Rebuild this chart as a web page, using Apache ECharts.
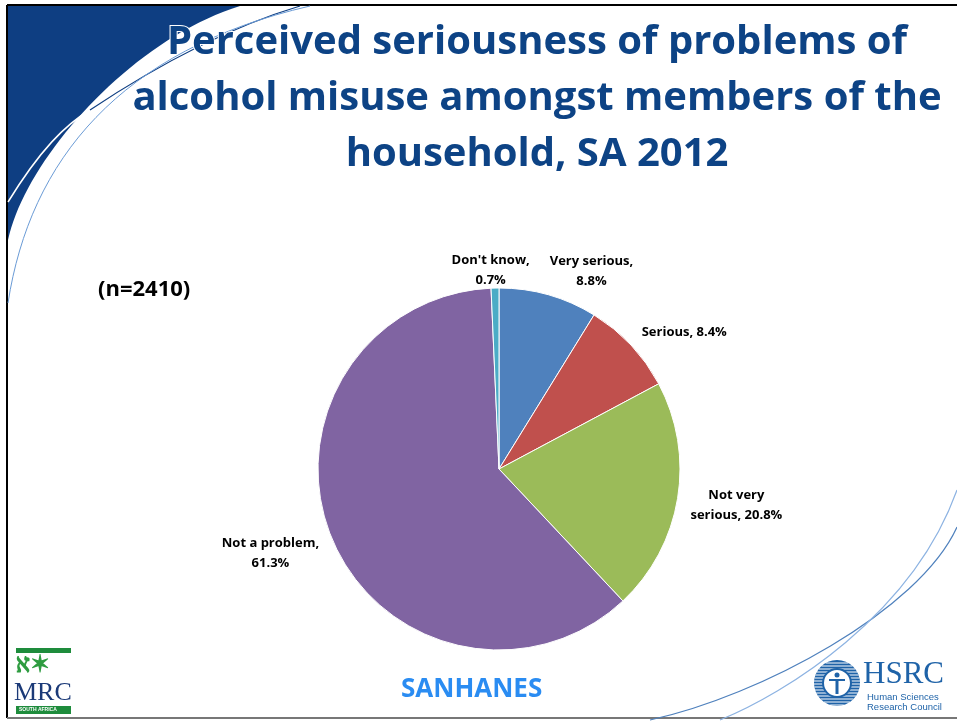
<!DOCTYPE html>
<html>
<head>
<meta charset="utf-8">
<script src="https://cdn.jsdelivr.net/npm/echarts@6/dist/echarts.min.js"></script>
<style>
html,body{margin:0;padding:0;background:#fff;}
#c{width:957px;height:722px;}
</style>
</head>
<body>
<div id="c"></div>
<script>
const categories = ["Very serious", "Serious", "Not very serious", "Not a problem", "Don't know"];
const values = [8.8, 8.4, 20.8, 61.3, 0.7];
const labelTexts = ["Very serious,\n8.8%", "Serious, 8.4%", "Not very\nserious, 20.8%", "Not a problem,\n61.3%", "Don't know,\n0.7%"];
const colors = ["#4F81BD", "#C0504D", "#9BBB59", "#8064A2", "#4BACC6"];
const titleLines = ["Perceived seriousness of problems of", "alcohol misuse amongst members of the", "household, SA 2012"];
// label nudges relative to the library's outside label position
const labelDX = [-7, -3, -4, 3, 40];
const labelDY = [-12, -5, 5, 9, -6];

const chart = echarts.init(document.getElementById('c'), null, {renderer: 'canvas'});
const FONT = '"Open Sans", sans-serif';

function bz(x1,y1,c1x,c1y,c2x,c2y,x2,y2,style,z){
  return {type:'bezierCurve', shape:{x1:x1,y1:y1,cpx1:c1x,cpy1:c1y,cpx2:c2x,cpy2:c2y,x2:x2,y2:y2}, style:style, z:z};
}
// decorative corner swoosh outline (sampled cubic)
function cubicPts(p0,c1,c2,p3,n){
  const pts=[];
  for(let i=0;i<=n;i++){
    const t=i/n, u=1-t;
    pts.push([u*u*u*p0[0]+3*u*u*t*c1[0]+3*u*t*t*c2[0]+t*t*t*p3[0],
              u*u*u*p0[1]+3*u*u*t*c1[1]+3*u*t*t*c2[1]+t*t*t*p3[1]]);
  }
  return pts;
}
const swoosh = [[8,6]].concat(cubicPts([240,6],[130,40],[25,160],[8,240],40));

// HSRC striped circle
const hsrc = [];
const hcx = 837, hcy = 683, hr = 23;
hsrc.push({type:'circle', shape:{cx:hcx,cy:hcy,r:hr}, style:{fill:'#1F63A8'}, z:10});
for (let dy = -hr + 3; dy < hr; dy += 3) {
  const hw = Math.sqrt(hr*hr - dy*dy);
  hsrc.push({type:'line', shape:{x1:hcx-hw,y1:hcy+dy,x2:hcx+hw,y2:hcy+dy}, style:{stroke:'#fff',lineWidth:1}, z:11});
}
hsrc.push({type:'circle', shape:{cx:hcx,cy:hcy,r:14}, style:{fill:'#fff',stroke:'#1F63A8',lineWidth:2}, z:12});
hsrc.push({type:'circle', shape:{cx:hcx,cy:hcy-8,r:2.5}, style:{fill:'#1F63A8'}, z:13});
hsrc.push({type:'line', shape:{x1:hcx,y1:hcy-4,x2:hcx,y2:hcy+11}, style:{stroke:'#1F63A8',lineWidth:3}, z:13});
hsrc.push({type:'line', shape:{x1:hcx-8,y1:hcy-3,x2:hcx+8,y2:hcy-3}, style:{stroke:'#1F63A8',lineWidth:2}, z:13});

const graphics = [
  // slide border
  {type:'line', shape:{x1:7,y1:5,x2:7,y2:718}, style:{stroke:'#000',lineWidth:2}, z:1},
  {type:'line', shape:{x1:7,y1:5,x2:957,y2:5}, style:{stroke:'#000',lineWidth:2}, z:1},
  {type:'line', shape:{x1:7,y1:718,x2:957,y2:718}, style:{stroke:'#777',lineWidth:2}, z:1},
  // top-left decorative
  {type:'polygon', shape:{points:swoosh}, style:{fill:'#0E3E82'}, z:2},
  bz(8,202,40,150,65,125,90,110,{stroke:'#fff',lineWidth:1.5,fill:null},3),
  bz(90,110,150,70,220,30,300,6,{stroke:'#0E3E82',lineWidth:1.2,fill:null},3),
  bz(8,303,30,160,120,50,310,6,{stroke:'#6A9BD6',lineWidth:1,fill:null},3),
  // bottom-right decorative
  bz(650,720,760,696,919,611,957,527,{stroke:'#4F81BD',lineWidth:1.2,fill:null},3),
  bz(720,720,784,694,912,616,957,490,{stroke:'#8DB3E2',lineWidth:1.2,fill:null},3),
  // title
  {type:'text', x:537, y:15, style:{text:titleLines.join('\n'), fill:'#0D4385', font:'bold 40px '+FONT, textAlign:'center', lineHeight:56, stroke:'#fff', lineWidth:2}, z:10},
  {type:'text', x:98, y:279, style:{text:'(n=2410)', fill:'#000', font:'bold 22px '+FONT}, z:10},
  {type:'text', x:401, y:677, style:{text:'SANHANES', fill:'#2A8CF2', font:'bold 26px '+FONT}, z:10},
  // MRC logo
  {type:'rect', shape:{x:16,y:648,width:55,height:5}, style:{fill:'#1E8C3C'}, z:10},
  {type:'text', x:16, y:654, style:{text:'ℵ✶', fill:'#2E9C40', font:'bold 24px serif'}, z:10},
  {type:'text', x:14, y:680, style:{text:'MRC', fill:'#1B3A78', font:'26px "Liberation Serif", serif'}, z:10},
  {type:'rect', shape:{x:16,y:706,width:55,height:8}, style:{fill:'#1E8C3C'}, z:10},
  {type:'text', x:19, y:707, style:{text:'SOUTH AFRICA', fill:'#fff', font:'bold 5px sans-serif'}, z:10},
  // HSRC logo
  ...hsrc,
  {type:'text', x:863, y:659, style:{text:'HSRC', fill:'#1F63A8', font:'31px "Liberation Serif", serif'}, z:10},
  {type:'text', x:867, y:692, style:{text:'Human Sciences\nResearch Council', fill:'#1F63A8', font:'9.5px "Liberation Sans", sans-serif', lineHeight:10}, z:10}
];

chart.setOption({
  animation:false,
  backgroundColor:'#fff',
  graphic: graphics,
  series:[{
    type:'pie',
    center:[499, 469],
    radius:181,
    startAngle:90,
    clockwise:true,
    avoidLabelOverlap:false,
    itemStyle:{borderColor:'#fff', borderWidth:1},
    label:{show:true, position:'outside', fontFamily:FONT, fontWeight:'bold', fontSize:13, color:'#000', lineHeight:20,
      formatter: p => labelTexts[p.dataIndex]},
    labelLine:{show:false, length:12, length2:0},
    labelLayout: p => ({
      x: p.labelRect.x + p.labelRect.width/2 + labelDX[p.dataIndex],
      y: p.labelRect.y + p.labelRect.height/2 + labelDY[p.dataIndex],
      align:'center', verticalAlign:'middle'
    }),
    data: categories.map((c,i)=>({name:c, value:values[i], itemStyle:{color:colors[i]}}))
  }]
});
</script>
</body>
</html>
